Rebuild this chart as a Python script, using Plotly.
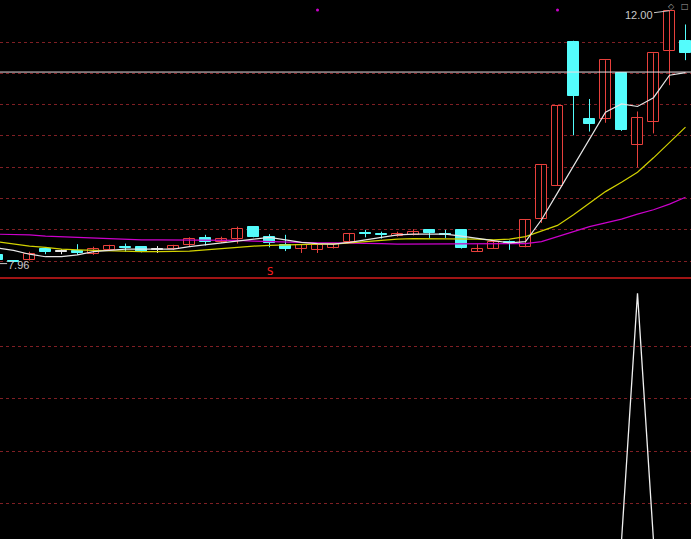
import plotly.graph_objects as go

# ---------------- data ----------------
OPEN = [8.10, 8.00, 8.01, 8.19, 8.15, 8.16, 8.12, 8.18, 8.23, 8.23,
        8.19, 8.19, 8.25, 8.37, 8.31, 8.35, 8.55, 8.39, 8.26, 8.19,
        8.18, 8.21, 8.31, 8.45, 8.43, 8.40, 8.42, 8.49, 8.44, 8.50,
        8.15, 8.20, 8.30, 8.22, 8.68, 9.20, 11.50, 10.27, 10.27, 11.00,
        9.86, 10.22, 11.35, 11.52]
HIGH = [8.13, 8.01, 8.15, 8.19, 8.19, 8.27, 8.23, 8.26, 8.28, 8.24,
        8.24, 8.26, 8.38, 8.42, 8.39, 8.55, 8.56, 8.43, 8.42, 8.27,
        8.26, 8.29, 8.45, 8.50, 8.47, 8.47, 8.51, 8.49, 8.50, 8.50,
        8.27, 8.31, 8.33, 8.66, 9.53, 10.48, 11.52, 10.59, 11.21, 11.00,
        10.39, 11.32, 12.00, 11.78]
LOW = [7.96, 7.98, 8.01, 8.11, 8.11, 8.10, 8.10, 8.16, 8.15, 8.14,
       8.13, 8.18, 8.24, 8.25, 8.29, 8.28, 8.38, 8.22, 8.16, 8.13,
       8.13, 8.20, 8.29, 8.38, 8.36, 8.39, 8.41, 8.37, 8.37, 8.20,
       8.15, 8.20, 8.18, 8.22, 8.61, 9.20, 10.01, 10.07, 10.21, 10.08,
       9.50, 10.04, 10.81, 11.21]
CLOSE = [8.02, 7.99, 8.11, 8.15, 8.15, 8.13, 8.20, 8.24, 8.21, 8.15,
         8.19, 8.24, 8.36, 8.30, 8.36, 8.51, 8.39, 8.29, 8.20, 8.26,
         8.26, 8.28, 8.44, 8.44, 8.42, 8.44, 8.47, 8.45, 8.42, 8.21,
         8.20, 8.31, 8.29, 8.66, 9.53, 10.48, 10.63, 10.19, 11.21, 10.09,
         10.29, 11.32, 12.00, 11.32]

MA_WHITE = [8.21, 8.17, 8.11, 8.07, 8.07, 8.10, 8.15, 8.17, 8.19, 8.19,
            8.19, 8.19, 8.23, 8.26, 8.29, 8.32, 8.36, 8.38, 8.34, 8.30,
            8.28, 8.27, 8.30, 8.34, 8.39, 8.42, 8.43, 8.43, 8.43, 8.40,
            8.36, 8.32, 8.29, 8.31, 8.66, 9.09, 9.52, 9.94, 10.38, 10.51,
            10.47, 10.61, 10.97, 11.01]
MA_YELLOW = [8.31, 8.27, 8.24, 8.22, 8.19, 8.18, 8.17, 8.16, 8.16, 8.15,
             8.15, 8.15, 8.16, 8.18, 8.20, 8.23, 8.24, 8.25, 8.26, 8.27,
             8.27, 8.27, 8.29, 8.31, 8.34, 8.35, 8.36, 8.36, 8.36, 8.36,
             8.35, 8.34, 8.35, 8.39, 8.48, 8.57, 8.74, 8.93, 9.11, 9.26,
             9.42, 9.65, 9.89, 10.14]
MA_MAGENTA = [8.43, 8.43, 8.42, 8.40, 8.39, 8.37, 8.36, 8.35, 8.35, 8.34,
              8.34, 8.34, 8.34, 8.34, 8.34, 8.33, 8.32, 8.31, 8.30, 8.29,
              8.29, 8.29, 8.29, 8.28, 8.28, 8.27, 8.27, 8.27, 8.27, 8.27,
              8.27, 8.27, 8.27, 8.28, 8.31, 8.39, 8.47, 8.55, 8.61, 8.67,
              8.75, 8.82, 8.91, 9.02]

# lower-pane indicator
SIGNAL = [0, 0, 0, 0, 0, 0, 0, 0, 0, 0,
          0, 0, 0, 0, 0, 0, 0, 0, 0, 0,
          0, 0, 0, 0, 0, 0, 0, 0, 0, 0,
          0, 0, 0, 0, 0, 0, 0, 0, 0, 0,
          1, 0, 0, 0]

REF_LINE = 11.02                 # white horizontal line
TOP_DOTS = [20, 35]              # magenta markers at the top edge
TOP_DOT_PRICE = 12.01
SELL_INDEX = 17                  # "S" marker
SELL_PRICE = 7.826
HIGH_LABEL = "12.00"
LOW_LABEL = "7.96"

GRID_PRICES = [8.0, 8.5, 9.0, 9.5, 10.0, 10.5, 11.0, 11.5]
BOTTOM_GRID = [0.153, 0.363, 0.577, 0.787]

# ---------------- style ----------------
RED = "#e8403c"
CYAN = "#54fcfc"
WHITE = "#e6e6e6"
YELLOW = "#d2d200"
MAGENTA = "#cc00cc"
GRID = "#7f1f24"
SEP = "#a01414"
LABEL = "#c8c8c8"

N = len(OPEN)
XS = list(range(N))
XRANGE = [0.156, 43.344]
MIN_BODY = 0.02

groups = []
for o, c in zip(OPEN, CLOSE):
    groups.append("up" if c > o else ("down" if c < o else "flat"))

fig = go.Figure()

# wicks
for g, col in [("up", RED), ("down", CYAN), ("flat", WHITE)]:
    wx, wy = [], []
    for i in XS:
        if groups[i] == g:
            wx += [i, i, None]
            wy += [LOW[i], HIGH[i], None]
    fig.add_trace(go.Scatter(x=wx, y=wy, mode="lines", line=dict(color=col, width=1),
                             hoverinfo="skip", xaxis="x", yaxis="y"))

# bodies
for g, fill, edge in [("up", "#000000", RED), ("down", CYAN, CYAN), ("flat", WHITE, WHITE)]:
    idx = [i for i in XS if groups[i] == g]
    base, h = [], []
    for i in idx:
        lo, hi = min(OPEN[i], CLOSE[i]), max(OPEN[i], CLOSE[i])
        if hi - lo < MIN_BODY:
            mid = (hi + lo) / 2
            lo, hi = mid - MIN_BODY / 2, mid + MIN_BODY / 2
        base.append(lo)
        h.append(hi - lo)
    fig.add_trace(go.Bar(x=idx, y=h, base=base, width=0.72,
                         marker=dict(color=fill, line=dict(color=edge, width=1)),
                         hoverinfo="skip", xaxis="x", yaxis="y"))

# moving averages
for vals, col in [(MA_MAGENTA, MAGENTA), (MA_YELLOW, YELLOW), (MA_WHITE, WHITE)]:
    fig.add_trace(go.Scatter(x=XS, y=vals, mode="lines", line=dict(color=col, width=1.2),
                             hoverinfo="skip", xaxis="x", yaxis="y"))

# reference line
fig.add_trace(go.Scatter(x=XRANGE, y=[REF_LINE, REF_LINE], mode="lines",
                         line=dict(color="#eadde2", width=1), hoverinfo="skip",
                         xaxis="x", yaxis="y"))

# top dots
fig.add_trace(go.Scatter(x=TOP_DOTS, y=[TOP_DOT_PRICE] * len(TOP_DOTS), mode="markers",
                         marker=dict(color=MAGENTA, size=3), hoverinfo="skip",
                         xaxis="x", yaxis="y"))

# lower pane
fig.add_trace(go.Scatter(x=XS, y=SIGNAL, mode="lines", line=dict(color="#f0f0f0", width=1.3),
                         hoverinfo="skip", xaxis="x2", yaxis="y2"))

hi_i = HIGH.index(max(HIGH))
lo_i = LOW.index(min(LOW))
label_font = dict(family="Liberation Sans, Arial, sans-serif", size=11, color=LABEL)
fig.add_annotation(x=hi_i, y=HIGH[hi_i], xref="x", yref="y", text=HIGH_LABEL,
                   showarrow=True, arrowhead=0, arrowwidth=1, arrowcolor=LABEL,
                   ax=-31, ay=4, font=label_font, xanchor="center", yanchor="middle")
# low label: leader line from the lowest candle, then the value text
fig.add_trace(go.Scatter(x=[lo_i, lo_i + 0.6], y=[LOW[lo_i], LOW[lo_i]], mode="lines",
                         line=dict(color=LABEL, width=1), hoverinfo="skip",
                         xaxis="x", yaxis="y"))
fig.add_annotation(x=lo_i + 0.6, y=LOW[lo_i], xref="x", yref="y", text=LOW_LABEL,
                   showarrow=False, font=label_font, xanchor="left", yanchor="middle",
                   xshift=-1, yshift=-1)
fig.add_annotation(x=SELL_INDEX, y=SELL_PRICE, xref="x", yref="y", text="S",
                   showarrow=False, font=dict(family="DejaVu Sans", size=10, color="#ff2020"))
fig.add_annotation(x=0.972, y=1.0, xref="paper", yref="paper", text="◇",
                   showarrow=False, yanchor="top", xanchor="center",
                   font=dict(family="DejaVu Sans", size=8, color="#a0a0a0"))
fig.add_annotation(x=1.0, y=1.0, xref="paper", yref="paper", text="□",
                   showarrow=False, yanchor="top", xanchor="right",
                   font=dict(family="DejaVu Sans", size=8, color="#a0a0a0"))

TOP_DOMAIN = [0.48609, 1.0]
BOT_DOMAIN = [0.0, 0.48609]
common_x = dict(range=XRANGE, showgrid=False, showticklabels=False, zeroline=False, ticks="")

fig.update_layout(
    width=691, height=539, margin=dict(l=0, r=0, t=0, b=0),
    paper_bgcolor="#000000", plot_bgcolor="#000000",
    showlegend=False, barmode="overlay", bargap=0,
    xaxis=dict(anchor="y", domain=[0, 1], showline=True, linecolor=SEP, linewidth=1.5, **common_x),
    yaxis=dict(domain=TOP_DOMAIN, range=[7.746, 12.171], tickvals=GRID_PRICES,
               showgrid=True, gridcolor=GRID, griddash="dot", gridwidth=1,
               showticklabels=False, zeroline=False, ticks=""),
    xaxis2=dict(anchor="y2", domain=[0, 1], showline=False, **common_x),
    yaxis2=dict(domain=BOT_DOMAIN, range=[0.00807, 1.0658], tickvals=BOTTOM_GRID,
                showgrid=True, gridcolor=GRID, griddash="dot", gridwidth=1,
                showticklabels=False, zeroline=False, ticks=""),
)

fig.write_html("out.html", config={"displayModeBar": False},
               post_script="document.body.style.margin='0';"
                           "document.body.style.overflow='hidden';"
                           "document.body.style.background='#000';")
